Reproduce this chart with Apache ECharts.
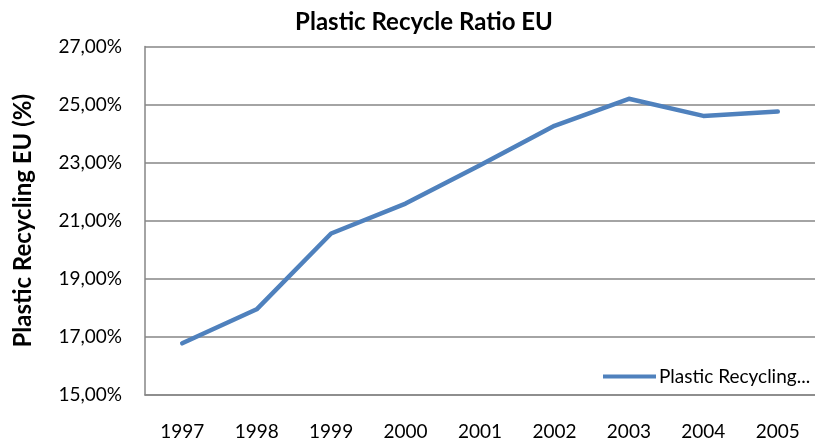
<!DOCTYPE html>
<html>
<head>
<meta charset="utf-8">
<script src="https://cdn.jsdelivr.net/npm/echarts@6/dist/echarts.min.js"></script>
<style>
html, body { margin: 0; padding: 0; background: #fff; }
#chart { width: 815px; height: 441px; }
</style>
</head>
<body>
<div id="chart"></div>
<script>
// Plastic recycling ratio in the EU, per year (%)
const years = ['1997', '1998', '1999', '2000', '2001', '2002', '2003', '2004', '2005'];
const recycleRatio = [16.78, 17.95, 20.56, 21.59, 22.91, 24.27, 25.20, 24.61, 24.76];
const yTicks = { min: 15, max: 27, step: 2 };

const font = 'Lato, "Open Sans", sans-serif';
const chart = echarts.init(document.getElementById('chart'));

chart.setOption({
  animation: false,
  backgroundColor: '#ffffff',
  title: {
    text: 'Plastic Recycle Ratio EU',
    left: 424,
    textAlign: 'center',
    top: 10,
    padding: 0,
    textStyle: { fontFamily: font, fontSize: 24, fontWeight: 'bold', color: '#000' }
  },
  legend: {
    left: 603,
    top: 367,
    padding: 0,
    icon: 'rect',
    itemWidth: 53,
    itemHeight: 4,
    itemGap: 6,
    formatter: () => 'Plastic Recycling...',
    textStyle: { fontFamily: font, fontSize: 19, color: '#000', padding: [0, 0, 0, -2] },
    data: ['Plastic Recycling EU (%)']
  },
  grid: { left: 145, top: 46.5, bottom: 45, right: -10, containLabel: false },
  xAxis: {
    type: 'category',
    data: years,
    boundaryGap: true,
    axisLine: { lineStyle: { color: '#868686', width: 1.5 } },
    axisTick: { show: false },
    axisLabel: { fontFamily: font, fontSize: 19, color: '#000', margin: 27 }
  },
  yAxis: {
    type: 'value',
    min: yTicks.min,
    max: yTicks.max,
    interval: yTicks.step,
    name: 'Plastic Recycling EU (%)',
    nameLocation: 'middle',
    nameRotate: 90,
    nameGap: 110,
    nameTextStyle: { fontFamily: font, fontSize: 24, fontWeight: 'bold', color: '#000' },
    axisLine: { show: true, lineStyle: { color: '#868686', width: 1.5 } },
    axisTick: { show: false },
    splitLine: { lineStyle: { color: '#868686', width: 1.5 } },
    axisLabel: {
      fontFamily: font, fontSize: 19, color: '#000', margin: 23,
      formatter: v => v.toFixed(2).replace('.', ',') + '%'
    }
  },
  series: [{
    name: 'Plastic Recycling EU (%)',
    type: 'line',
    data: recycleRatio,
    showSymbol: false,
    symbol: 'none',
    lineStyle: { color: '#4F81BD', width: 4.5, cap: 'round', join: 'round' },
    itemStyle: { color: '#4F81BD' }
  }]
});
</script>
</body>
</html>
